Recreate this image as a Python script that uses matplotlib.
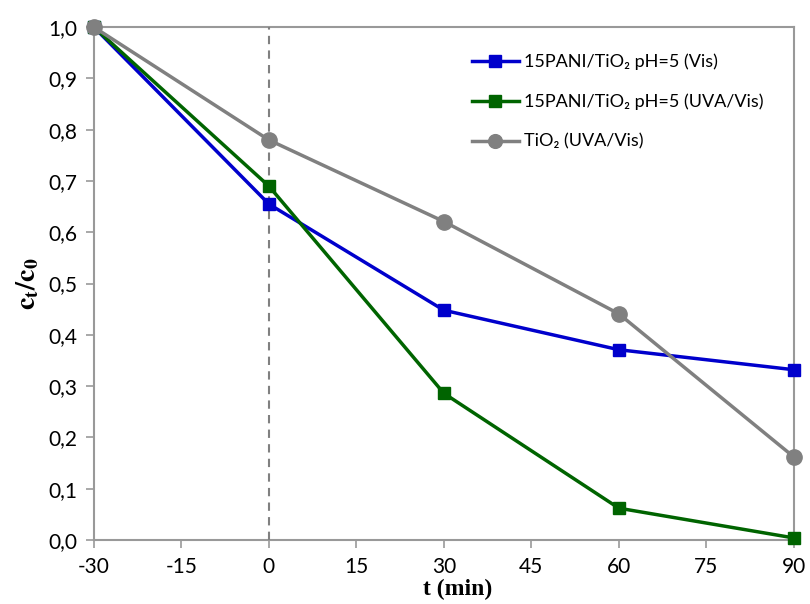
import matplotlib.pyplot as plt

t = [-30, 0, 30, 60, 90]
pani_vis = [1.0, 0.655, 0.448, 0.371, 0.332]
pani_uva = [1.0, 0.690, 0.286, 0.062, 0.004]
tio2_uva = [1.0, 0.780, 0.621, 0.441, 0.162]

labels = ['15PANI/TiO\u2082 pH=5 (Vis)', '15PANI/TiO\u2082 pH=5 (UVA/Vis)', 'TiO\u2082 (UVA/Vis)']

plt.rcParams['font.family'] = ['Lato', 'DejaVu Sans']
plt.rcParams['axes.unicode_minus'] = False
plt.rcParams['mathtext.fontset'] = 'stix'

fig = plt.figure(figsize=(8.1, 6.04), dpi=100)
ax = fig.add_axes([0.116, 0.106, 0.864, 0.849])

ax.plot(t, pani_vis, color='#0000CC', lw=2.5, marker='s', ms=9, label=labels[0], zorder=3, clip_on=False)
ax.plot(t, pani_uva, color='#006400', lw=2.5, marker='s', ms=9, label=labels[1], zorder=4, clip_on=False)
ax.plot(t, tio2_uva, color='#808080', lw=2.5, marker='o', ms=11, label=labels[2], zorder=5, clip_on=False)

ax.axvline(0, color='#808080', lw=1.5, ls=(0, (4, 3)), zorder=1)

ax.set_xlim(-30, 90)
ax.set_ylim(0, 1.0)
ax.set_xticks(range(-30, 91, 15))
ax.set_yticks([i / 10 for i in range(11)])
ax.set_yticklabels([f'{i / 10:.1f}'.replace('.', ',') for i in range(11)])
ax.tick_params(labelsize=15, color='#999999', length=6, width=1.2, direction='out', pad=6)
for s in ax.spines.values():
    s.set_color('#999999')
    s.set_linewidth(1.5)
    s.set_zorder(0)

ax.set_ylabel(r'$\mathbf{c_t/c_0}$', fontsize=20, labelpad=0)
ax.yaxis.set_label_coords(-0.075, 0.5)
ax.set_xlabel('t (min)', fontfamily='Liberation Serif', fontweight='bold', fontsize=17)
ax.xaxis.set_label_coords(0.52, -0.075)

ax.legend(loc='upper right', bbox_to_anchor=(0.98, 0.98), frameon=False, fontsize=13,
          handlelength=2.6, labelspacing=1.3, handletextpad=0.3, markerscale=0.9)

fig.savefig('out.png', dpi=100)
